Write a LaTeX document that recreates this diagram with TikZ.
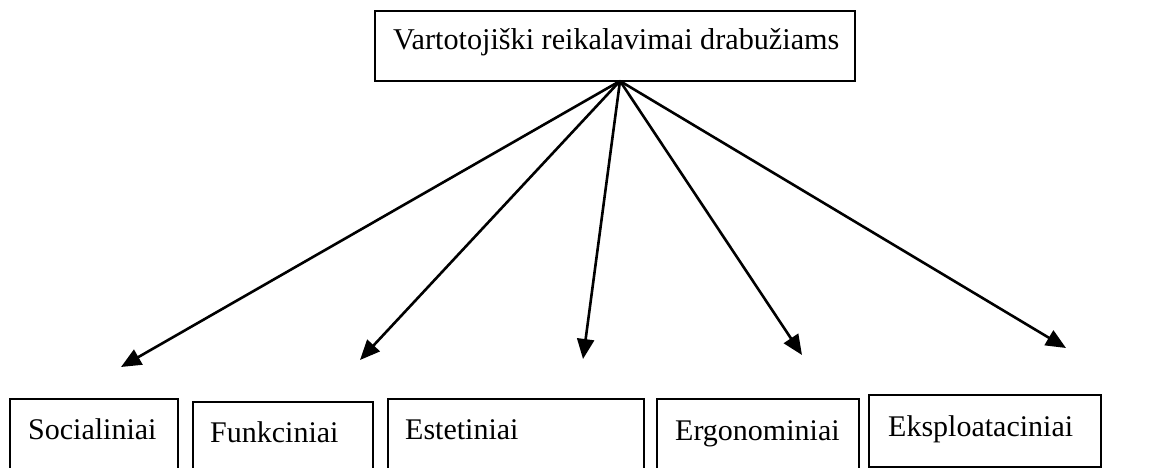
\documentclass[tikz,border=0pt]{standalone}
\usepackage{fontspec}
\setmainfont{Liberation Serif}
\usetikzlibrary{arrows.meta}
\begin{document}
\begin{tikzpicture}[x=1pt,y=-1pt,
  boxshape/.style={draw,line width=1.9pt,rectangle,inner sep=0pt,anchor=north west},
  lbl/.style={inner sep=0pt,anchor=base west,font=\fontsize{30}{34}\selectfont},
  arr/.style={line width=2.6pt,-{Triangle[length=20pt,width=17pt]}}]
\useasboundingbox (0,0) rectangle (1169,468);
\clip (0,0) rectangle (1169,468);
% top box
\node[boxshape,minimum width=480pt,minimum height=70pt] (top) at (374,10) {};
\node[lbl,font=\fontsize{30.2}{34}\selectfont] (toptxt) at (393,50) {Vartotojiški reikalavimai drabužiams};
% bottom boxes
\node[boxshape,minimum width=168pt,minimum height=90pt] (soc) at (9,398) {};
\node[boxshape,minimum width=180pt,minimum height=90pt] (fun) at (192,401) {};
\node[boxshape,minimum width=256pt,minimum height=90pt] (est) at (387,398) {};
\node[boxshape,minimum width=202pt,minimum height=90pt] (erg) at (656,398) {};
\node[boxshape,minimum width=232pt,minimum height=72pt] (eks) at (868,394) {};
\node[lbl] (soctxt) at (28,439) {Socialiniai};
\node[lbl] (funtxt) at (210,442) {Funkciniai};
\node[lbl] (esttxt) at (405,439) {Estetiniai};
\node[lbl] (ergtxt) at (675,440) {Ergonominiai};
\node[lbl] (ekstxt) at (888,436) {Eksploataciniai};
% arrows
\coordinate (o) at (620,81);
\coordinate (t1) at (121,367);
\coordinate (t2) at (360,360);
\coordinate (t3) at (583,359);
\coordinate (t4) at (802,355);
\coordinate (t5) at (1066,348);
\foreach \t in {t1,t2,t3,t4,t5} \draw[arr] (o) -- (\t);
\end{tikzpicture}
\end{document}
